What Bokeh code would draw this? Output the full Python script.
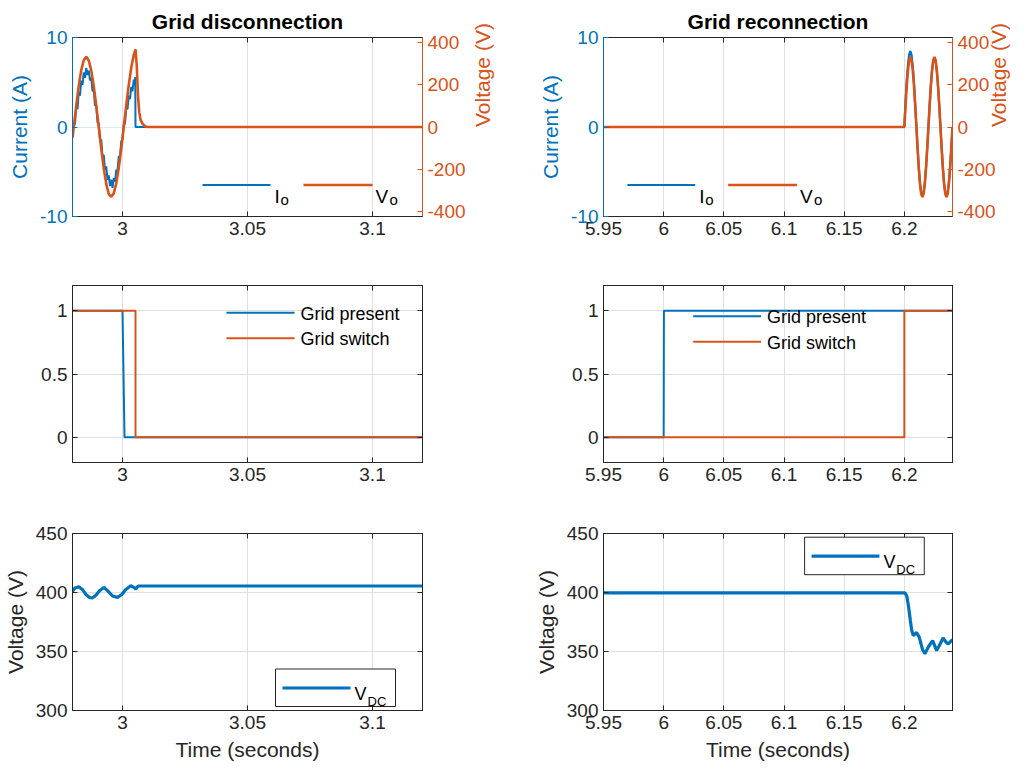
import math
from bokeh.plotting import figure
from bokeh.layouts import gridplot
from bokeh.models import (Range1d, LinearAxis, FixedTicker, NumeralTickFormatter,
                          CustomJSTickFormatter, Label, BoxAnnotation)
from bokeh.embed import file_html
from bokeh.resources import INLINE

# ---------------- data ----------------
# Grid disconnection: output current Io (A) and output voltage Vo (V)
t_io_dis = [2.9800, 2.9805, 2.9810, 2.9815, 2.9820, 2.9825, 2.9830, 2.9835, 2.9840, 2.9845,
            2.9850, 2.9855, 2.9860, 2.9865, 2.9870, 2.9875, 2.9880, 2.9885, 2.9890, 2.9895,
            2.9900, 2.9905, 2.9910, 2.9915, 2.9920, 2.9925, 2.9930, 2.9935, 2.9940, 2.9945,
            2.9950, 2.9955, 2.9960, 2.9965, 2.9970, 2.9975, 2.9980, 2.9985, 2.9990, 2.9995,
            3.0000, 3.0005, 3.0010, 3.0015, 3.0020, 3.0025, 3.0030, 3.0035, 3.0040, 3.0045,
            3.0049, 3.0051, 3.0052, 3.1200]
io_dis = [-0.6, 0.5, 0.3, 2.3, 2.0, 3.9, 3.5, 5.2, 4.7, 6.1,
          5.5, 6.6, 5.8, 6.3, 5.2, 5.5, 4.0, 4.1, 2.4, 2.4,
          0.5, 0.4, -1.5, -1.4, -3.3, -3.1, -4.8, -4.4, -5.9, -5.4,
          -6.6, -5.9, -6.8, -5.7, -6.1, -4.8, -4.9, -3.3, -3.3, -1.6,
          -1.4, 0.3, 0.4, 2.1, 2.0, 3.5, 3.1, 4.5, 4.0, 5.3,
          4.7, 5.6, 0.0, 0.0]
t_vo_dis = [2.9800, 2.9805, 2.9815, 2.9825, 2.9835, 2.9845, 2.9855, 2.9865, 2.9875, 2.9885,
            2.9895, 2.9905, 2.9915, 2.9925, 2.9935, 2.9945, 2.9955, 2.9965, 2.9975, 2.9985,
            2.9995, 3.0005, 3.0015, 3.0025, 3.0035, 3.0045, 3.0052, 3.0057, 3.0062, 3.0067,
            3.0072, 3.0080, 3.0090, 3.0100, 3.1200]
vo_dis = [-52, 0, 102, 195, 268, 315, 331, 314, 266, 193,
          101, 0, -103, -195, -268, -316, -329, -313, -266, -194,
          -102, 0, 103, 198, 280, 340, 366, 290, 145, 70,
          35, 15, 4, 0, 0]

# Grid reconnection: output current Io (A) and output voltage Vo (V)
t_ac_rec = [5.950, 6.200, 6.201, 6.202, 6.203, 6.204, 6.205, 6.206, 6.207, 6.208, 6.209,
            6.210, 6.211, 6.212, 6.213, 6.214, 6.215, 6.216, 6.217, 6.218, 6.219,
            6.220, 6.221, 6.222, 6.223, 6.224, 6.225, 6.226, 6.227, 6.228, 6.229,
            6.230, 6.231, 6.232, 6.233, 6.234, 6.235, 6.236, 6.237, 6.238, 6.239,
            6.240]
io_rec = [0.0, 0.0, 2.9, 5.3, 7.0, 8.1, 8.5, 8.0, 6.8, 4.9, 2.5,
          0.1, -2.4, -4.6, -6.3, -7.4, -7.7, -7.3, -6.2, -4.5, -2.3,
          0.0, 2.4, 4.6, 6.3, 7.4, 7.7, 7.3, 6.2, 4.5, 2.3,
          0.0, -2.4, -4.6, -6.3, -7.4, -7.8, -7.3, -6.2, -4.5, -2.3,
          0.0]
vo_rec = [0, 0, 102, 194, 267, 314, 330, 314, 267, 194, 102,
          0, -102, -194, -267, -314, -330, -314, -267, -194, -102,
          0, 102, 194, 267, 314, 331, 314, 267, 194, 102,
          0, -102, -194, -267, -314, -330, -314, -267, -194, -102,
          0]

# Grid present / grid switch states
t_gp_dis = [2.98, 3.0000, 3.0008, 3.12]
gp_dis = [1, 1, 0, 0]
t_gs_dis = [2.98, 3.0052, 3.0052, 3.12]
gs_dis = [1, 1, 0, 0]
t_gp_rec = [5.95, 6.0000, 6.0002, 6.24]
gp_rec = [0, 0, 1, 1]
t_gs_rec = [5.95, 6.2000, 6.2000, 6.24]
gs_rec = [0, 0, 1, 1]

# DC-link voltage (V)
t_vdc_dis = [2.9800, 2.9810, 2.9825, 2.9840, 2.9855, 2.9868, 2.9879, 2.9892, 2.9908, 2.9926,
             2.9943, 2.9960, 2.9980, 2.9997, 3.0013, 3.0033, 3.0045, 3.0053, 3.0060, 3.0066,
             3.1200]
vdc_dis = [401.0, 403.8, 404.9, 402.5, 398.0, 395.8, 395.3, 397.2, 401.5, 404.3,
           401.0, 397.0, 395.9, 398.3, 402.5, 405.8, 404.4, 403.0, 405.0, 405.5,
           405.5]
t_vdc_rec = [5.9500, 6.2006, 6.2020, 6.2035, 6.2050, 6.2061, 6.2074, 6.2090, 6.2102, 6.2124,
             6.2150, 6.2171, 6.2200, 6.2235, 6.2252, 6.2268, 6.2295, 6.2322, 6.2345, 6.2364,
             6.2400]
vdc_rec = [399.6, 399.6, 397.0, 388.0, 376.0, 368.0, 363.5, 365.0, 366.2, 362.0,
           352.0, 348.0, 354.0, 359.2, 355.0, 350.8, 356.0, 361.5, 358.0, 356.4,
           360.0]

# axis ranges and ticks
XR_DIS = (2.98, 3.12)
XR_REC = (5.95, 6.24)
XT_DIS = [3.0, 3.05, 3.1]
XT_REC = [5.95, 6.0, 6.05, 6.1, 6.15, 6.2]
YR_I = (-10, 10)
YT_I = [-10, 0, 10]
YR_V = (-422, 422)
YT_V = [-400, -200, 0, 200, 400]
YR_S = (-0.2, 1.2)
YT_S = [0, 0.5, 1]
YR_DC = (300, 450)
YT_DC = [300, 350, 400, 450]

# ---------------- style ----------------
BLUE = "#0072BD"
ORANGE = "#D95319"
AX = "#262626"
GRID = "#DFDFDF"
FONT = "Liberation Sans"
TICK_FS = "19px"
LABEL_FS = "21px"
FW = 350  # frame width in px


def px_x(xr, rel):
    return xr[0] + (xr[1] - xr[0]) * rel / FW


def px_y(yr, fh, rel):
    return yr[1] - (yr[1] - yr[0]) * rel / fh


def style_axis(ax, ticks, color=AX, labels=True):
    ax.ticker = FixedTicker(ticks=ticks)
    ax.formatter = NumeralTickFormatter(format="0.[00]") if labels else CustomJSTickFormatter(code="return ''")
    ax.axis_line_color = color
    ax.axis_line_width = 1
    ax.major_tick_line_color = color
    ax.major_tick_in = 5
    ax.major_tick_out = 0
    ax.minor_tick_line_color = None
    ax.major_label_text_color = color
    ax.major_label_text_font = FONT
    ax.major_label_text_font_size = TICK_FS
    ax.major_label_standoff = 5 if labels else 0
    ax.axis_label_text_color = color
    ax.axis_label_text_font = FONT
    ax.axis_label_text_font_size = LABEL_FS
    ax.axis_label_text_font_style = "normal"
    ax.axis_label_standoff = 6


def make_fig(xr, xt, yr, yt, ml, mr, mt, fh, mb, ylabel=None, xlabel=None,
             title=None, ycolor=AX, mirror_right=True):
    p = figure(width=ml + FW + mr, height=mt + fh + mb,
               x_range=Range1d(*xr), y_range=Range1d(*yr),
               output_backend="svg", toolbar_location=None,
               min_border_left=ml, min_border_right=mr,
               min_border_top=mt, min_border_bottom=mb)
    p.outline_line_color = AX
    p.outline_line_alpha = 1
    p.outline_line_width = 1
    p.background_fill_color = "white"
    p.border_fill_color = "white"
    style_axis(p.xaxis[0], xt)
    style_axis(p.yaxis[0], yt, color=ycolor)
    if xlabel:
        p.xaxis[0].axis_label = xlabel
    if ylabel:
        p.yaxis[0].axis_label = ylabel
    top = LinearAxis()
    style_axis(top, xt, labels=False)
    p.add_layout(top, "above")
    if mirror_right:
        right = LinearAxis()
        style_axis(right, yt, labels=False)
        p.add_layout(right, "right")
    p.xgrid.grid_line_color = GRID
    p.ygrid.grid_line_color = GRID
    if title:
        p.title.text = title
        p.title.align = "center"
        p.title.text_font = FONT
        p.title.text_font_size = "21px"
        p.title.text_font_style = "bold"
        p.title.text_color = "black"
        p.title.standoff = 9
    return p


def swatch(p, xr, yr, fh, x0, x1, yrel, color, width):
    r = p.line([px_x(xr, x0), px_x(xr, x1)], [px_y(yr, fh, yrel)] * 2,
               line_color=color, line_width=width)
    r.level = "overlay"


def txt(p, xr, yr, fh, xrel, yrel, s, size, baseline="alphabetic"):
    p.add_layout(Label(x=px_x(xr, xrel), y=px_y(yr, fh, yrel), text=s,
                       text_font=FONT, text_font_size=size, text_color="black",
                       text_baseline=baseline, text_align="left"))


# ---------------- row 1: Io / Vo ----------------
FH1 = 179


def top_fig(xr, xt, ml, mr, title, t_i, i_vals, t_v, v_vals, lg, iw, rstand):
    p = make_fig(xr, xt, YR_I, YT_I, ml, mr, 37, FH1, 36, ylabel="Current (A)",
                 title=title, ycolor=BLUE, mirror_right=False)
    p.ygrid.grid_line_color = "#D9EAF5"
    p.extra_y_ranges = {"v": Range1d(*YR_V)}
    rax = LinearAxis(y_range_name="v", axis_label="Voltage (V)")
    style_axis(rax, YT_V, color=ORANGE)
    rax.axis_label_orientation = math.pi / 2
    rax.axis_label_standoff = rstand
    p.add_layout(rax, "right")
    p.line(t_i, i_vals, line_color=BLUE, line_width=iw)
    p.line(t_v, v_vals, line_color=ORANGE, line_width=2.6, y_range_name="v")
    x0 = lg
    swatch(p, xr, YR_I, FH1, x0, x0 + 68, 147.5, BLUE, 2.2)
    txt(p, xr, YR_I, FH1, x0 + 72, 158.7, "I", "19px")
    txt(p, xr, YR_I, FH1, x0 + 78, 162.0, "o", "15px")
    swatch(p, xr, YR_I, FH1, x0 + 101, x0 + 170, 147.5, ORANGE, 2.6)
    txt(p, xr, YR_I, FH1, x0 + 173, 158.7, "V", "19px")
    txt(p, xr, YR_I, FH1, x0 + 187, 162.0, "o", "15px")
    return p


p1 = top_fig(XR_DIS, XT_DIS, 72, 90, "Grid disconnection", t_io_dis, io_dis,
             t_vo_dis, vo_dis, 130, 2.0, 14)
p2 = top_fig(XR_REC, XT_REC, 91, 71, "Grid reconnection", t_ac_rec, io_rec,
             t_ac_rec, vo_rec, 24, 2.2, 0)

# ---------------- row 2: switch states ----------------
FH2 = 177


def mid_fig(xr, xt, ml, mr, t_p, v_p, t_s, v_s, lx, ly):
    p = make_fig(xr, xt, YR_S, YT_S, ml, mr, 33, FH2, 38)
    p.line(t_p, v_p, line_color=BLUE, line_width=2)
    p.line(t_s, v_s, line_color=ORANGE, line_width=2)
    swatch(p, xr, YR_S, FH2, lx, lx + 68, ly, BLUE, 2)
    txt(p, xr, YR_S, FH2, lx + 74, ly + 1, "Grid present", "18px", "middle")
    swatch(p, xr, YR_S, FH2, lx, lx + 68, ly + 25.5, ORANGE, 2)
    txt(p, xr, YR_S, FH2, lx + 74, ly + 26.5, "Grid switch", "18px", "middle")
    return p


p3 = mid_fig(XR_DIS, XT_DIS, 72, 90, t_gp_dis, gp_dis, t_gs_dis, gs_dis, 154, 27.3)
p4 = mid_fig(XR_REC, XT_REC, 91, 71, t_gp_rec, gp_rec, t_gs_rec, gs_rec, 90, 30.7)

# ---------------- row 3: DC-link voltage ----------------
FH3 = 177


def bot_fig(xr, xt, ml, mr, t_d, v_d, bx, by):
    p = make_fig(xr, xt, YR_DC, YT_DC, ml, mr, 33, FH3, 58, ylabel="Voltage (V)",
                 xlabel="Time (seconds)")
    p.line(t_d, v_d, line_color=BLUE, line_width=3.2)
    p.add_layout(BoxAnnotation(left=px_x(xr, bx), right=px_x(xr, bx + 120),
                               top=px_y(YR_DC, FH3, by), bottom=px_y(YR_DC, FH3, by + 37.5),
                               fill_color="white", fill_alpha=1,
                               line_color=AX, line_width=1, line_alpha=1))
    swatch(p, xr, YR_DC, FH3, bx + 7, bx + 75, by + 19, BLUE, 3.2)
    txt(p, xr, YR_DC, FH3, bx + 79, by + 25, "V", "18px")
    txt(p, xr, YR_DC, FH3, bx + 92, by + 32, "DC", "13px")
    return p


p5 = bot_fig(XR_DIS, XT_DIS, 72, 90, t_vdc_dis, vdc_dis, 203, 135.5)
p6 = bot_fig(XR_REC, XT_REC, 91, 71, t_vdc_rec, vdc_rec, 201.7, 3.7)

grid = gridplot([[p1, p2], [p3, p4], [p5, p6]], toolbar_location=None)
open("out.html", "w").write(file_html(grid, INLINE))
